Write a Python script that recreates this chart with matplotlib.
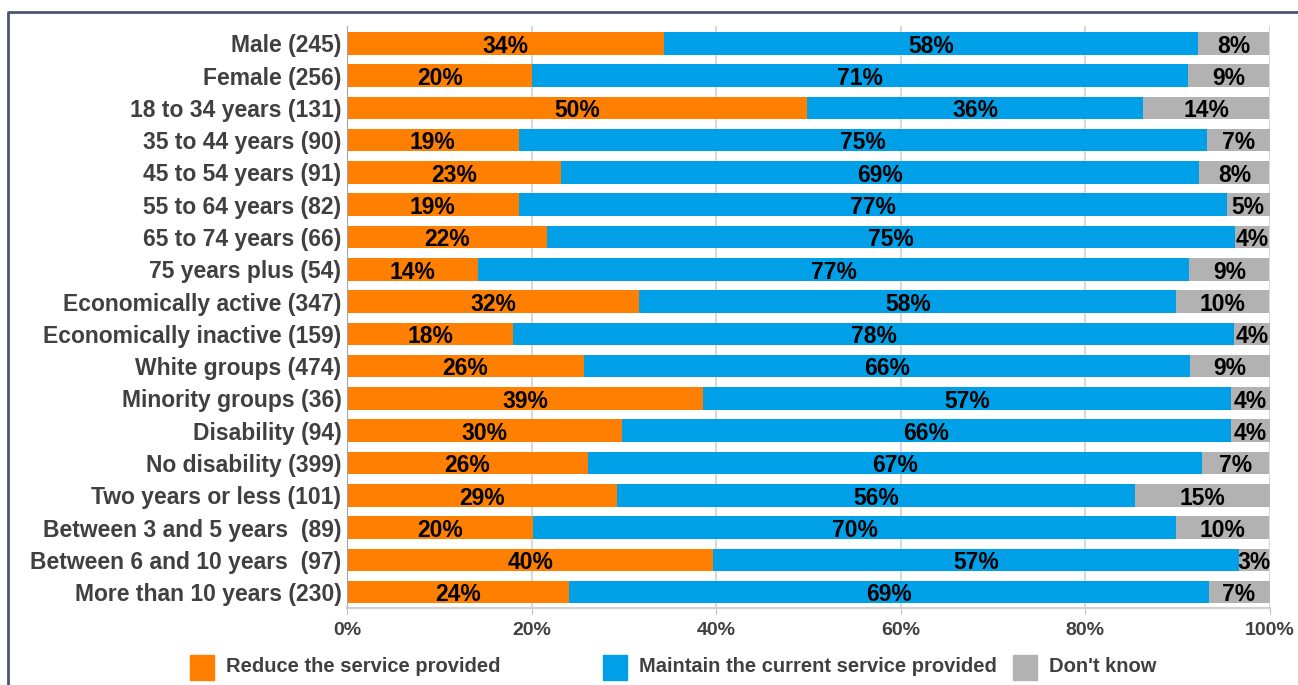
import matplotlib
matplotlib.use('Agg')
import matplotlib.pyplot as plt
from matplotlib.lines import Line2D
from matplotlib.patches import Rectangle
import numpy as np

plt.rcParams['font.family'] = ['Liberation Sans', 'DejaVu Sans']
plt.rcParams['font.weight'] = 'bold'

categories = ['Male (245)', 'Female (256)', '18 to 34 years (131)', '35 to 44 years (90)',
              '45 to 54 years (91)', '55 to 64 years (82)', '65 to 74 years (66)',
              '75 years plus (54)', 'Economically active (347)', 'Economically inactive (159)',
              'White groups (474)', 'Minority groups (36)', 'Disability (94)',
              'No disability (399)', 'Two years or less (101)', 'Between 3 and 5 years  (89)',
              'Between 6 and 10 years  (97)', 'More than 10 years (230)']

reduce_vals = [34.4, 20.1, 49.9, 18.6, 23.2, 18.6, 21.7, 14.2, 31.7, 18.0,
               25.7, 38.6, 29.8, 26.1, 29.3, 20.2, 39.7, 24.1]
maintain_vals = [57.8, 71.1, 36.4, 74.6, 69.2, 76.8, 74.6, 77.1, 58.2, 78.2,
                 65.7, 57.2, 66.0, 66.6, 56.1, 69.7, 57.0, 69.3]
dontknow_vals = [7.8, 8.8, 13.7, 6.8, 7.6, 4.6, 3.7, 8.7, 10.1, 3.8,
                 8.6, 4.2, 4.2, 7.3, 14.6, 10.1, 3.3, 6.6]

series_names = ['Reduce the service provided', 'Maintain the current service provided', "Don't know"]
colors = ['#FF7F00', '#00A0E9', '#B2B2B2']
xticks = [0, 20, 40, 60, 80, 100]

W, H = 1298, 685
fig = plt.figure(figsize=(W / 100, H / 100), dpi=100)
ax = fig.add_axes([347 / W, 1 - 608.3 / H, 922.5 / W, 582.3 / H])

y = np.arange(len(categories))
left = np.zeros(len(categories))
for vals, col in zip([reduce_vals, maintain_vals, dontknow_vals], colors):
    vals = np.array(vals)
    ax.barh(y, vals, left=left, height=0.70, color=col, zorder=2)
    for yi, l, v in zip(y, left, vals):
        # labels sit a little low in the bars, as in the original
        ax.annotate('%.0f%%' % v, (l + v / 2, yi), xytext=(0, -2), textcoords='offset points',
                    ha='center', va='center', fontsize=16.5, fontweight='bold',
                    color='black', zorder=3)
    left = left + vals

ax.set_xlim(0, 100)
ax.set_ylim(17.5, -0.535)
ax.set_yticks(y)
ax.set_yticklabels(categories, fontsize=16.5, fontweight='bold', color='#404040')
ax.set_xticks(xticks)
ax.set_xticklabels(['%d%%' % t for t in xticks], fontsize=14, fontweight='bold', color='#404040')
ax.tick_params(axis='y', length=0, pad=4)
ax.tick_params(axis='x', length=4, color='#BFBFBF', pad=6)
ax.grid(axis='x', color='#D9D9D9', linewidth=1.5, zorder=0)
ax.set_axisbelow(True)
for s in ['top', 'right']:
    ax.spines[s].set_visible(False)
ax.spines['left'].set_color('#A6A6A6')
ax.spines['bottom'].set_color('#D0D0D0')
ax.spines['bottom'].set_linewidth(1.5)

# legend, laid out by hand like the original
legend_x = [190, 603, 1013]
for lx, name, col in zip(legend_x, series_names, colors):
    fig.patches.append(Rectangle((lx / W, 1 - 680 / H), 24 / W, 25 / H,
                                 transform=fig.transFigure, color=col))
    fig.text((lx + 36) / W, 1 - 667 / H, name, fontsize=14.5, fontweight='bold',
             color='#404040', va='center', ha='left')

# frame around the chart (runs off the right and bottom edges)
fig.add_artist(Line2D([8 / W, 8 / W, 1.02], [-0.02, 1 - 12 / H, 1 - 12 / H],
                      transform=fig.transFigure, color='#4A5670', linewidth=2))

fig.savefig('out.png', dpi=100)
